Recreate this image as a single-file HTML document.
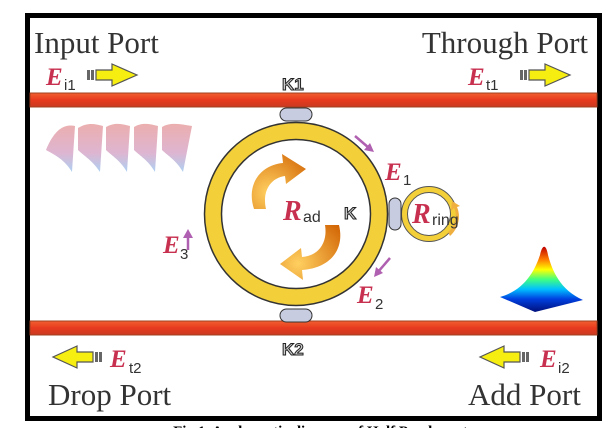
<!DOCTYPE html>
<html><head><meta charset="utf-8"><style>
html,body{margin:0;padding:0;background:#fff;width:610px;height:428px;overflow:hidden}
</style></head><body>
<svg width="610" height="428" viewBox="0 0 610 428" xmlns="http://www.w3.org/2000/svg">
<defs>
<linearGradient id="wg" x1="0" y1="0" x2="0" y2="1">
<stop offset="0" stop-color="#f06030"/><stop offset="0.5" stop-color="#e83a1e"/><stop offset="1" stop-color="#c83a20"/>
</linearGradient>
<linearGradient id="wave" x1="0" y1="0" x2="0" y2="1">
<stop offset="0" stop-color="#e8a0a0"/><stop offset="0.6" stop-color="#d8a8c8"/><stop offset="1" stop-color="#a0c8f0"/>
</linearGradient>
<linearGradient id="gau" x1="0" y1="0" x2="0" y2="1">
<stop offset="0" stop-color="#c00000"/><stop offset="0.2" stop-color="#ff8000"/><stop offset="0.35" stop-color="#ffff00"/><stop offset="0.5" stop-color="#40ff80"/><stop offset="0.65" stop-color="#00c0ff"/><stop offset="0.8" stop-color="#0040e0"/><stop offset="1" stop-color="#00107a"/>
</linearGradient>
<radialGradient id="arr" cx="0.3" cy="0.7" r="1"><stop offset="0" stop-color="#ffd060"/><stop offset="1" stop-color="#d06000"/></radialGradient>
</defs>
<rect x="27.5" y="15.5" width="572" height="403" fill="#fff" stroke="#000" stroke-width="5"/>
<rect x="30" y="93" width="567" height="14" fill="url(#wg)" stroke="#a04020" stroke-width="1"/>
<rect x="30" y="321" width="567" height="14" fill="url(#wg)" stroke="#a04020" stroke-width="1"/>
<g font-family="Liberation Serif, serif" fill="#333" font-size="31">
<text x="34" y="53">Input Port</text>
<text x="588" y="53" text-anchor="end">Through Port</text>
<text x="48" y="405">Drop Port</text>
<text x="468" y="405">Add Port</text>
</g>
<g font-family="Liberation Serif, serif" font-style="italic" font-weight="bold" fill="#c83050" font-size="25">
<text x="46" y="85">E</text><text x="468" y="85">E</text>
<text x="110" y="367">E</text><text x="540" y="367">E</text>
<text x="385" y="180">E</text><text x="357" y="303">E</text><text x="163" y="253">E</text>
</g>
<g font-family="Liberation Sans, sans-serif" fill="#333" font-size="15">
<text x="64" y="90">i1</text><text x="486" y="90">t1</text>
<text x="129" y="373">t2</text><text x="558" y="373">i2</text>
<text x="403" y="185">1</text><text x="375" y="309">2</text><text x="180" y="259">3</text>
</g>
<g fill="#f6ee10" stroke="#555" stroke-width="1.2">
<path d="M96 70 h16 v-6 l25 11 -25 11 v-6 h-16z"/>
<path d="M529 70 h16 v-6 l25 11 -25 11 v-6 h-16z"/>
<path d="M93 352 h-16 v-6 l-24 11 24 11 v-6 h16z"/>
<path d="M520 352 h-16 v-6 l-24 11 24 11 v-6 h16z"/>
</g>
<g fill="#666">
<rect x="87" y="70" width="3" height="10"/><rect x="91" y="70" width="3" height="10"/>
<rect x="520" y="70" width="3" height="10"/><rect x="524" y="70" width="3" height="10"/>
<rect x="95" y="352" width="3" height="10"/><rect x="99" y="352" width="3" height="10"/>
<rect x="522" y="352" width="3" height="10"/><rect x="526" y="352" width="3" height="10"/>
</g>
<path d="M46 150 C55 128 65 124 75 126 L72 172 C65 160 55 155 46 150Z M78 128 C88 122 95 124 103 126 L100 172 C92 160 84 156 78 150Z M106 127 C115 122 122 124 130 126 L127 172 C120 160 112 156 106 150Z M134 127 C142 122 150 124 158 126 L155 172 C148 160 140 156 134 150Z M162 127 C170 122 180 124 192 126 L183 172 C176 160 168 156 162 150Z" fill="url(#wave)" opacity="0.85"/>
<path d="M500 297 C525 290 535 270 540 255 C542 245 546 243 548 255 C552 270 560 290 583 300 L535 312Z" fill="url(#gau)"/>
<circle cx="296" cy="214" r="83" fill="none" stroke="#f3cf3a" stroke-width="17"/>
<circle cx="296" cy="214" r="91.5" fill="none" stroke="#333" stroke-width="1.5"/>
<circle cx="296" cy="214" r="74.5" fill="#fff" stroke="#333" stroke-width="1.5"/>
<circle cx="429" cy="214" r="24.5" fill="none" stroke="#f3cf3a" stroke-width="6"/>
<circle cx="429" cy="214" r="27.5" fill="none" stroke="#555" stroke-width="1"/>
<circle cx="429" cy="214" r="21.5" fill="#fff" stroke="#555" stroke-width="1"/>
<g fill="#c8cce0" stroke="#333" stroke-width="1">
<rect x="280" y="108" width="32" height="13" rx="6.5"/>
<rect x="280" y="309" width="32" height="13" rx="6.5"/>
<rect x="389" y="198" width="12" height="32" rx="6"/>
</g>
<g font-family="Liberation Sans, sans-serif" font-weight="bold" fill="#ccc" stroke="#222" stroke-width="1" font-size="17">
<text x="282" y="90">K1</text><text x="282" y="355">K2</text><text x="344" y="219">K</text>
</g>
<path d="M254 209 C246 185 260 165 283 163 L282 154 L306 169 L286 184 L285 176 C270 178 262 192 266 209Z" fill="url(#arr)"/>
<path d="M339 225 C345 250 330 268 302 270 L303 280 L280 264 L301 248 L302 257 C318 256 328 243 325 225Z" fill="url(#arr)"/>
<path d="M448 232 C456 226 458 215 454 208 L451 211 L452 201 L460 206 L457 207 C461 216 459 228 450 236Z" fill="#f0b040"/>
<g font-family="Liberation Serif, serif" font-style="italic" font-weight="bold" fill="#c83050" font-size="28">
<text x="283" y="220">R</text><text x="412" y="223">R</text>
</g>
<g font-family="Liberation Sans, sans-serif" fill="#333" font-size="16">
<text x="303" y="222">ad</text><text x="432" y="225">ring</text>
</g>
<g stroke="#b060b0" stroke-width="2.5" fill="#b060b0">
<line x1="355" y1="136" x2="369" y2="148"/><path d="M374 152 l-10 -2 6 -7z" stroke="none"/>
<line x1="390" y1="258" x2="378" y2="272"/><path d="M374 277 l2 -10 7 6z" stroke="none"/>
<line x1="188" y1="250" x2="188" y2="236"/><path d="M188 229 l-5 9 10 0z" stroke="none"/>
</g>
<text x="330" y="436" text-anchor="middle" font-family="Liberation Serif, serif" font-weight="bold" font-size="15" fill="#000">Fig.1. A schematic diagram of Half Panda system</text>
</svg>
</body></html>
